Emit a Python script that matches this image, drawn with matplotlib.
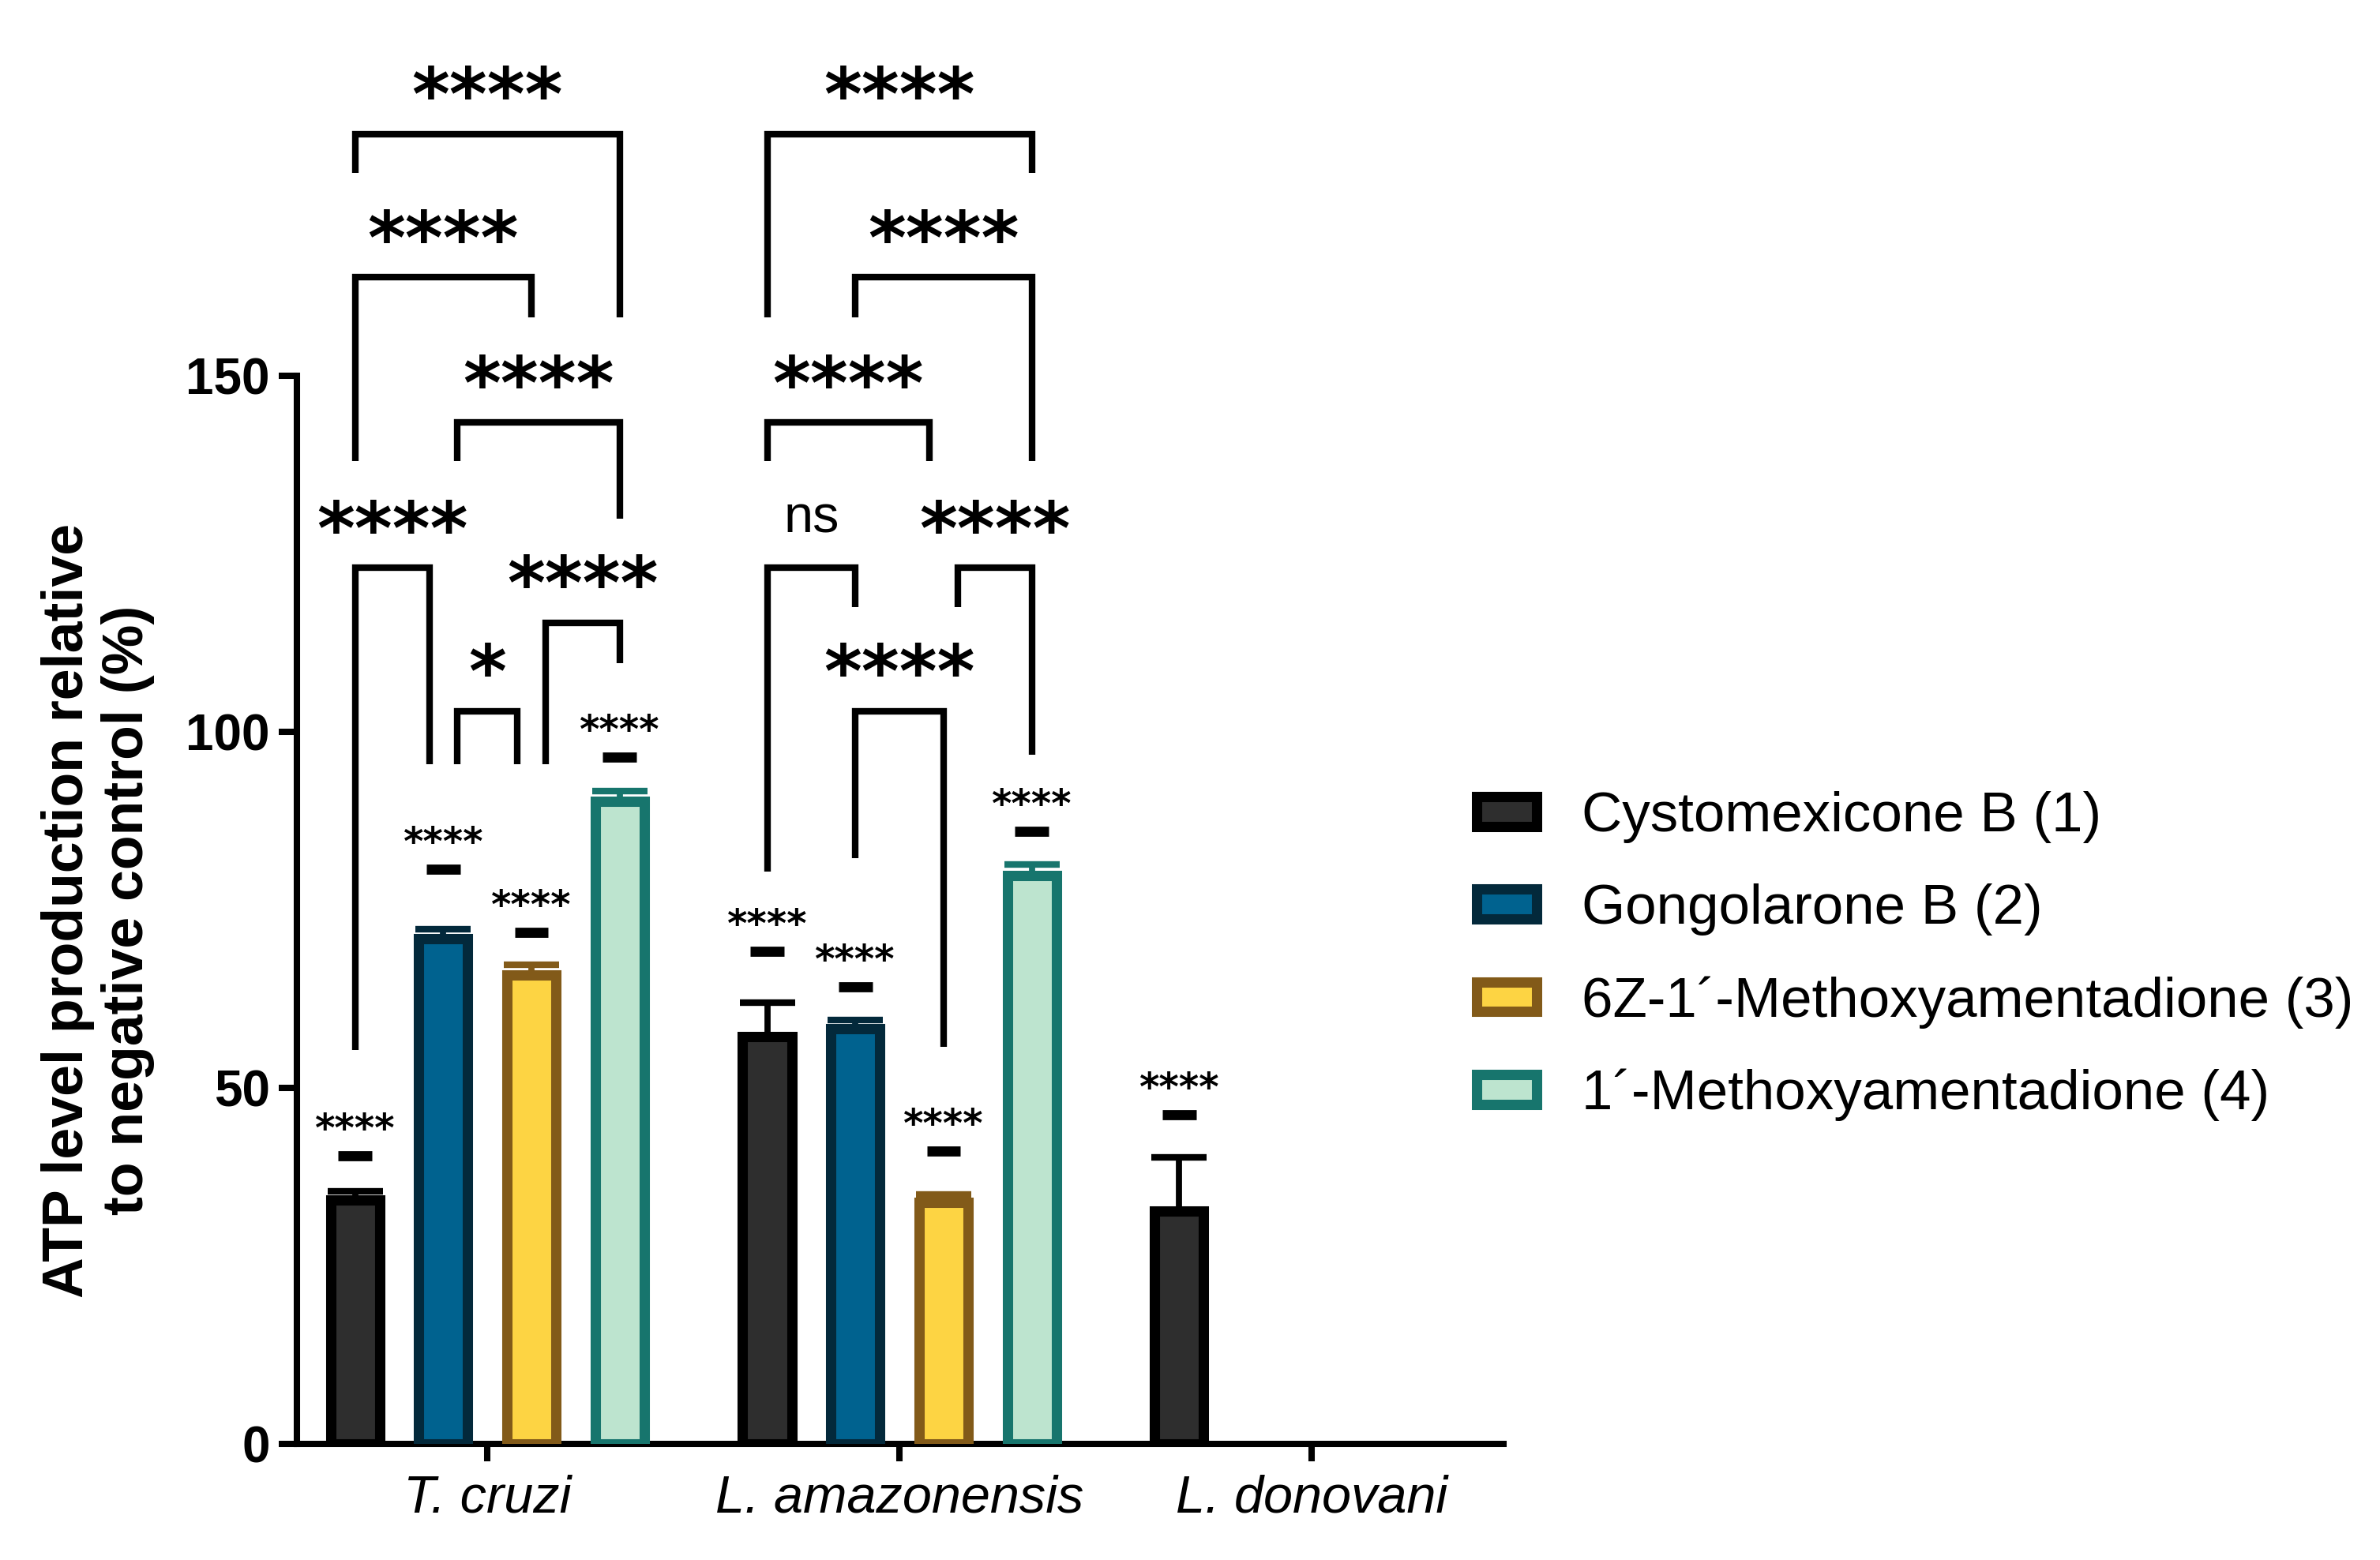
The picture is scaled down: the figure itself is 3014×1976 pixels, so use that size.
import numpy as np
import matplotlib
matplotlib.use('Agg')
import matplotlib.pyplot as plt

plt.rcParams['font.family'] = ['Liberation Sans', 'DejaVu Sans']

groups = ['T. cruzi', 'L. amazonensis', 'L. donovani']
compounds = ['Cystomexicone B (1)', 'Gongolarone B (2)',
             '6Z-1´-Methoxyamentadione (3)', '1´-Methoxyamentadione (4)']
fills = ['#2e2e2e', '#00628f', '#fdd443', '#bde4cf']
edges = ['#000000', '#03293b', '#825a19', '#17756d']

# mean values per compound for each parasite (nan = not tested)
means = [
    [34.2, 57.2, 32.7],
    [70.9, 58.3, np.nan],
    [65.8, 33.9, np.nan],
    [90.2, 79.8, np.nan],
]
# upper error (SD)
errs = [
    [1.3, 4.7, 7.5],
    [1.4, 1.2, np.nan],
    [1.5, 1.1, np.nan],
    [1.4, 1.5, np.nan],
]
# height of the "vs control" mark above each bar
mark_y = [
    [40.5, 69.1, 46.2],
    [80.7, 64.2, np.nan],
    [71.8, 41.1, np.nan],
    [96.4, 86.0, np.nan],
]
mark_txt = '****'

# comparisons: group, bar a, shift a, bar b, shift b, level, leg a end, leg b end, label
S = 0.034
brackets = [
    (0, 0, 0, 3, 0, 183.9, 178.4, 158.2, '****'),
    (0, 0, 0, 2, 0, 163.8, 138.0, 158.2, '****'),
    (0, 1, S, 3, 0, 143.4, 138.0, 129.9, '****'),
    (0, 0, 0, 1, -S, 123.0, 55.3, 95.4, '****'),
    (0, 2, S, 3, 0, 115.3, 95.4, 109.6, '****'),
    (0, 1, S, 2, -S, 102.9, 95.4, 95.4, '*'),
    (1, 0, 0, 3, 0, 183.9, 158.2, 178.4, '****'),
    (1, 1, 0, 3, 0, 163.8, 158.2, 138.0, '****'),
    (1, 0, 0, 2, -S, 143.4, 138.0, 138.0, '****'),
    (1, 0, 0, 1, 0, 123.0, 80.4, 117.5, 'ns'),
    (1, 2, S, 3, 0, 123.0, 117.5, 96.8, '****'),
    (1, 1, 0, 2, 0, 102.9, 82.2, 55.7, '****'),
]

step = 0.214
width = 0.119
lw_edge = 4.7


def bar_x(g, k):
    return g + (k - 1.5) * step


fig = plt.figure(figsize=(15.07, 9.88), dpi=200)
ax = fig.add_axes([0.1248, 0.0744, 0.5069, 0.9256])

handles = []
for k in range(4):
    xs, ys, es = [], [], []
    for g in range(3):
        if not np.isnan(means[k][g]):
            xs.append(bar_x(g, k))
            ys.append(means[k][g])
            es.append(errs[k][g])
    xs = np.array(xs)
    ax.errorbar(xs, ys, yerr=[np.zeros(len(es)), es], fmt='none',
                ecolor=edges[k], elinewidth=2.8, capsize=12.6, capthick=3.0,
                zorder=2)
    b = ax.bar(xs, ys, width=width, color=fills[k], edgecolor=edges[k],
               linewidth=lw_edge, zorder=3, label=compounds[k])
    handles.append(b)
    for g in range(3):
        my = mark_y[k][g]
        if np.isnan(my):
            continue
        x = bar_x(g, k)
        ax.plot([x - 0.041, x + 0.041], [my, my], color='black', lw=4.6,
                solid_capstyle='butt', zorder=4)
        ax.text(x, my + 2.0, mark_txt, ha='center', va='baseline',
                fontsize=17.5, fontweight='bold', family='DejaVu Sans')

for g, a, sa, bb, sb, y, ya, yb, lab in brackets:
    xa = bar_x(g, a) + sa
    xb = bar_x(g, bb) + sb
    ax.plot([xa, xa, xb, xb], [ya, y, y, yb], color='black', lw=3.0,
            solid_joinstyle='miter', solid_capstyle='butt', zorder=4)
    xm = (xa + xb) / 2
    if lab == 'ns':
        ax.text(xm, y + 5.0, lab, ha='center', va='baseline', fontsize=24)
    else:
        ax.text(xm, y + 1.9, lab, ha='center', va='baseline', fontsize=33,
                fontweight='bold', family='DejaVu Sans')

ax.set_xlim(-0.4617, 2.4655)
ax.set_ylim(0, 202.7)
ax.spines['top'].set_visible(False)
ax.spines['right'].set_visible(False)
ax.spines['left'].set_linewidth(2.9)
ax.spines['bottom'].set_linewidth(2.9)
ax.spines['left'].set_bounds(0, 150)
ax.set_yticks([0, 50, 100, 150])
ax.set_xticks([0, 1, 2])
ax.set_xticklabels(groups, fontstyle='italic')
ax.tick_params(axis='y', labelsize=23, width=2.9, length=8.3, pad=4)
ax.tick_params(axis='x', labelsize=24, width=2.9, length=8, pad=6)
for t in ax.get_yticklabels():
    t.set_fontweight('bold')

fig.text(124 / 3014, 1 - 1153 / 1976,
         'ATP level production relative\nto negative control (%)',
         rotation=90, ha='center', va='center', multialignment='center',
         fontsize=25.8, fontweight='bold', linespacing=1.15)

ax.legend(handles=handles, labels=compounds, loc='center left',
          bbox_to_anchor=(0.6206, 0.3871), bbox_transform=fig.transFigure,
          frameon=False, fontsize=25.5, handlelength=1.07, handleheight=0.44,
          handletextpad=0.8, labelspacing=0.72, borderpad=0, borderaxespad=0)

fig.savefig('out.png', dpi=200)
